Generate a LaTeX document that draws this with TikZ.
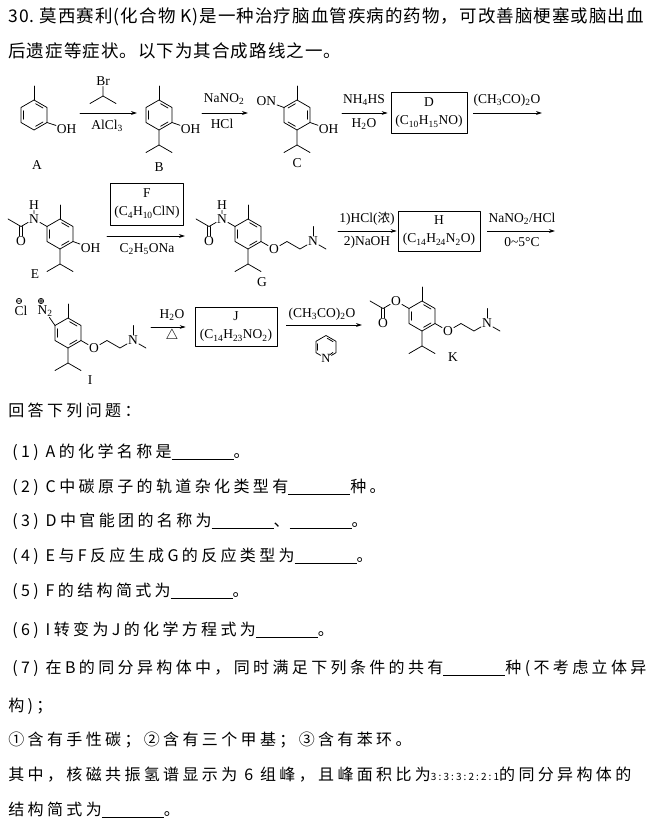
\documentclass[tikz,border=0pt]{standalone}
\usepackage{fontspec}
\setmainfont{Liberation Serif}
\newfontfamily\cjk{Noto Sans CJK SC}
\newfontfamily\cjkh[LetterSpace=6]{Noto Sans CJK SC}
\newfontfamily\cjkq[LetterSpace=21]{Noto Sans CJK SC}
\usetikzlibrary{calc,arrows.meta}
\newcommand\chsub[1]{\textsubscript{#1}}
\newcommand\blank{\rule[-2pt]{62pt}{0.6pt}}
\newcommand\headfont{\cjkh\fontsize{17.5}{17.5}\selectfont}
\newcommand\askfont{\cjkq\fontsize{16}{16}\selectfont}
% benzene ring: name, centre, angles of the inner lines
\newcommand\benz[4]{%
  \foreach \vx/\ang in {t/-90,ur/-30,lr/30,b/90,ll/150,ul/210}
    \coordinate (#1-\vx) at ($(#2,#3)+(\ang:15)$);
  \draw (#1-t)--(#1-ur)--(#1-lr)--(#1-b)--(#1-ll)--(#1-ul)--cycle;
  \foreach \ang in {#4}\draw ($(#2,#3)+({\ang+8}:11.4)$)--($(#2,#3)+({\ang+52}:11.4)$);}
% isopropyl on the lower vertex, methyl on the upper one
\newcommand\ipr[1]{\draw (#1-b)--++(0,15) coordinate (#1-ch)--++(150:15); \draw (#1-ch)--++(30:15);}
\newcommand\mey[1]{\draw (#1-t)--++(0,-14);}
\tikzset{
  lbl/.style={inner sep=0.6pt, font=\fontsize{13.5}{15}\selectfont},
  cond/.style={inner sep=0pt, font=\fontsize{13.5}{15}\selectfont},
  reag/.style={draw, align=center, minimum width=#1, minimum height=40pt, inner sep=1pt, font=\fontsize{13.5}{18}\selectfont},
  rxn/.style={->},
  head/.style={anchor=west, inner sep=0pt, font=\headfont},
  txt/.style={anchor=west, inner sep=0pt, font=\askfont}
}
\begin{document}
\begin{tikzpicture}[x=1pt, y=-1pt, line width=0.75pt, line join=round, line cap=round, >={Stealth[length=6pt,width=3.8pt]}]
\useasboundingbox (0,0) rectangle (658,824);
\node[head] (t1) at (8,17) {30.\ 莫西赛利(化合物 K)是一种治疗脑血管疾病的药物，可改善脑梗塞或脑出血};
\node[head] (t2) at (8,51) {后遗症等症状。以下为其合成路线之一。};
% row 1
\benz{A}{34}{115}{-90,30,150}
\mey{A}
\node[lbl,anchor=west] (ohA) at (56,129) {OH};
\draw (A-lr)--(ohA);
\node[lbl] (labA) at (37,165) {A};
\draw[rxn] (80,113)--(137,113);
\node[lbl] (br) at (103,81) {Br};
\draw (br)--(103,96) coordinate (brc)--++(150:15); \draw (brc)--++(30:15);
\node[cond] (alcl) at (107,126) {AlCl\chsub{3}};
\benz{B}{159}{115}{-90,30,150}
\mey{B} \ipr{B}
\node[lbl,anchor=west] (ohB) at (180,129) {OH};
\draw (B-lr)--(ohB);
\node[lbl] (labB) at (159,167) {B};
\draw[rxn] (202,113)--(248,113);
\node[cond] (nano) at (224,99) {NaNO\chsub{2}};
\node[cond] (hcl) at (222,124) {HCl};
\benz{C}{297}{115}{-30,90,210}
\mey{C} \ipr{C}
\node[lbl,anchor=east] (onC) at (277,101) {ON};
\draw (C-ul)--(onC);
\node[lbl,anchor=west] (ohC) at (318,129) {OH};
\draw (C-lr)--(ohC);
\node[lbl] (labC) at (297,163) {C};
\node[reag=76pt,minimum height=41pt] (boxD) at (429,113) {D\\(C\chsub{10}H\chsub{15}NO)};
\draw[rxn,shorten >=3pt] (342,113)--(boxD.west);
\node[cond] (nhs) at (364,100) {NH\chsub{4}HS};
\node[cond] (wat1) at (364,124) {H\chsub{2}O};
\draw[rxn] (boxD.east) ++(6,0)--(542,113);
\node[cond] (anh1) at (507,100) {(CH\chsub{3}CO)\chsub{2}O};
% row 2
\benz{E}{60}{234}{-90,30,150}
\mey{E} \ipr{E}
\node[lbl] (nE) at ($(E-ul)+(210:15)$) {N};
\node[lbl] (hE) at ($(nE)+(0,-14)$) {H};
\draw (E-ul)--(nE)--(hE);
\coordinate (cE) at ($(nE)+(150:15)$);
\draw (nE)--(cE)--++(210:15);
\node[lbl] (oxE) at ($(cE)+(0,15)$) {O};
\draw ($(cE)+(-1.5,0)$)--($(oxE.north)+(-1.5,0)$) ($(cE)+(1.5,0)$)--($(oxE.north)+(1.5,0)$);
\node[lbl,anchor=west] (ohE) at (80,248) {OH};
\draw (E-lr)--(ohE);
\node[lbl] (labE) at (35,274) {E};
\draw[rxn] (107,236)--(185,236);
\node[reag=73pt,minimum height=42pt] (boxF) at (147,204) {F\\(C\chsub{4}H\chsub{10}ClN)};
\node[cond] (etona) at (147,249) {C\chsub{2}H\chsub{5}ONa};
\benz{G}{248}{234}{-90,30,150}
\mey{G} \ipr{G}
\node[lbl] (nG) at ($(G-ul)+(210:15)$) {N};
\node[lbl] (hG) at ($(nG)+(0,-14)$) {H};
\draw (G-ul)--(nG)--(hG);
\coordinate (cG) at ($(nG)+(150:15)$);
\draw (nG)--(cG)--++(210:15);
\node[lbl] (oxG) at ($(cG)+(0,15)$) {O};
\draw ($(cG)+(-1.5,0)$)--($(oxG.north)+(-1.5,0)$) ($(cG)+(1.5,0)$)--($(oxG.north)+(1.5,0)$);
\node[lbl] (oG) at ($(G-lr)+(30:15)$) {O};
\draw (G-lr)--(oG);
\node[lbl] (amG) at ($(oG)+(39,-7.5)$) {N};
\draw (oG)--++(-30:15)--++(30:15)--(amG);
\draw (amG)--++(0,-15); \draw (amG)--++(30:15);
\node[lbl] (labG) at (262,282) {G};
\node[reag=82pt] (boxH) at (439,231) {H\\(C\chsub{14}H\chsub{24}N\chsub{2}O)};
\draw[rxn,shorten >=1pt] (338,231)--(boxH.west);
\node[cond] (hclc) at (367,219) {1)HCl({\cjk\fontsize{12.5}{12.5}\selectfont 浓})};
\node[cond] (naoh) at (367,242) {2)NaOH};
\draw[rxn] (boxH.east) ++(7,0)--(555,231);
\node[cond] (diaz) at (522,219) {NaNO\chsub{2}/HCl};
\node[cond] (temp) at (522,242) {0\textasciitilde 5°C};
% row 3
\benz{I}{68}{333}{-90,30,150}
\mey{I} \ipr{I}
\node[lbl] (clI) at (21,311) {Cl};
\node[lbl] (nI) at (45,311) {N\chsub{2}};
\draw (I-ul)--(nI);
\draw (19,301) circle (2.6) (17.4,301)--(20.6,301);
\draw (41,301) circle (2.6) (39.4,301)--(42.6,301) (41,299.4)--(41,302.6);
\node[lbl] (oI) at ($(I-lr)+(30:15)$) {O};
\draw (I-lr)--(oI);
\node[lbl] (amI) at ($(oI)+(39,-7.5)$) {N};
\draw (oI)--++(-30:15)--++(30:15)--(amI);
\draw (amI)--++(0,-15); \draw (amI)--++(30:15);
\node[lbl] (labI) at (90,380) {I};
\node[reag=82pt,minimum height=39pt] (boxJ) at (236,327) {J\\(C\chsub{14}H\chsub{23}NO\chsub{2})};
\draw[rxn,shorten >=9pt] (151,327)--(boxJ.west);
\node[cond] (wat2) at (172,315) {H\chsub{2}O};
\node[cond] (heat) at (172,336) {$\triangle$};
\draw[rxn] (boxJ.east) ++(9,-2)--(362,325);
\node[cond] (anh2) at (322,314) {(CH\chsub{3}CO)\chsub{2}O};
\coordinate (py) at (326,347);
\node[lbl,font=\fontsize{12.5}{12.5}\selectfont] (nPy) at ($(py)+(90:11.5)$) {N};
\draw (nPy)--($(py)+(30:11.5)$)--($(py)+(-30:11.5)$)--($(py)+(-90:11.5)$)--($(py)+(210:11.5)$)--($(py)+(150:11.5)$)--(nPy);
\foreach \ang in {-90,150}\draw ($(py)+({\ang+8}:8.8)$)--($(py)+({\ang+52}:8.8)$);
\draw ($(py)+(38:8.8)$)--($(py)+(68:8.8)$);
\benz{K}{422}{316}{-90,30,150}
\mey{K} \ipr{K}
\node[lbl] (oK) at ($(K-ul)+(210:15)$) {O};
\draw (K-ul)--(oK);
\coordinate (cK) at ($(oK)+(150:15)$);
\draw (oK)--(cK)--++(210:15);
\node[lbl] (oxK) at ($(cK)+(0,15)$) {O};
\draw ($(cK)+(-1.5,0)$)--($(oxK.north)+(-1.5,0)$) ($(cK)+(1.5,0)$)--($(oxK.north)+(1.5,0)$);
\node[lbl] (oK2) at ($(K-lr)+(30:15)$) {O};
\draw (K-lr)--(oK2);
\node[lbl] (amK) at ($(oK2)+(39,-7.5)$) {N};
\draw (oK2)--++(-30:15)--++(30:15)--(amK);
\draw (amK)--++(0,-15); \draw (amK)--++(30:15);
\node[lbl] (labK) at (453,357) {K};
% questions
\node[txt] (q0) at (8,410) {回答下列问题：};
\node[txt] (q1) at (12,452) {(1) A的化学名称是\blank。};
\node[txt] (q2) at (12,487) {(2) C中碳原子的轨道杂化类型有\blank 种。};
\node[txt] (q3) at (12,521) {(3) D中官能团的名称为\blank、\blank。};
\node[txt] (q4) at (12,556) {(4) E与F反应生成G的反应类型为\blank。};
\node[txt] (q5) at (12,591) {(5) F的结构简式为\blank。};
\node[txt] (q6) at (12,630) {(6) I转变为J的化学方程式为\blank。};
\node[txt] (q7) at (12,668) {(7) 在B的同分异构体中，同时满足下列条件的共有\blank 种(不考虑立体异};
\node[txt] (q7b) at (8,706) {构)；};
\node[txt] (q7c) at (8,740) {①含有手性碳；②含有三个甲基；③含有苯环。};
\node[txt] (q7d) at (8,775) {其中，核磁共振氢谱显示为 6 组峰，且峰面积比为{\fontsize{10}{10}\selectfont 3:3:3:2:2:1}的同分异构体的};
\node[txt] (q7e) at (8,810) {结构简式为\blank。};
\end{tikzpicture}
\end{document}
